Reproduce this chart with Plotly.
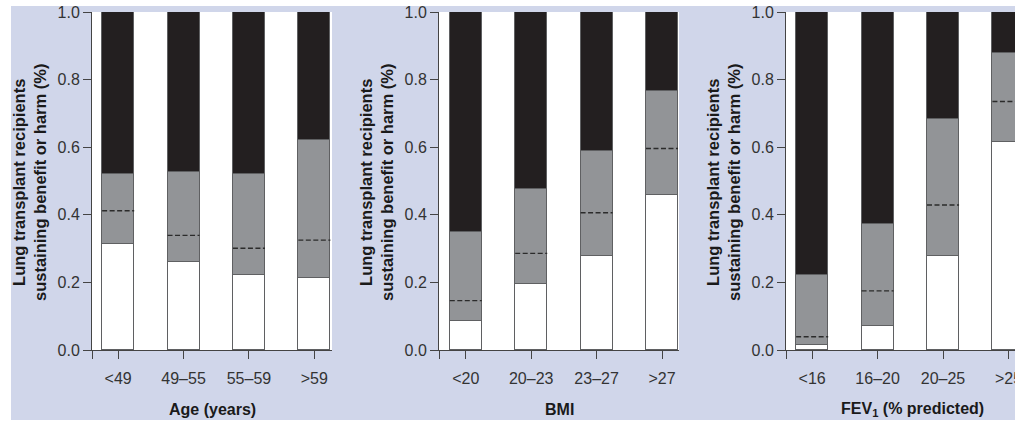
import plotly.graph_objects as go

# Proportions of lung transplant recipients by subgroup:
# white = lower band top, grey = upper band top, dashed = central estimate
age_labels = ["<49", "49–55", "55–59", ">59"]
age_low = [0.313, 0.259, 0.221, 0.213]
age_high = [0.521, 0.528, 0.521, 0.621]
age_mid = [0.412, 0.339, 0.301, 0.325]

bmi_labels = ["<20", "20–23", "23–27", ">27"]
bmi_low = [0.087, 0.196, 0.277, 0.459]
bmi_high = [0.350, 0.475, 0.589, 0.766]
bmi_mid = [0.146, 0.286, 0.406, 0.596]

fev_labels = ["<16", "16–20", "20–25", ">25"]
fev_low = [0.015, 0.071, 0.277, 0.616]
fev_high = [0.221, 0.372, 0.683, 0.880]
fev_mid = [0.039, 0.175, 0.429, 0.735]

y_ticks = [0.0, 0.2, 0.4, 0.6, 0.8, 1.0]

panels = [
    (age_labels, age_low, age_high, age_mid, "Age (years)"),
    (bmi_labels, bmi_low, bmi_high, bmi_mid, "BMI"),
    (fev_labels, fev_low, fev_high, fev_mid, "FEV<sub>1</sub> (% predicted)"),
]

W, H = 1015, 424
LAVENDER = "#d0d6ea"
BLACK = "#231f20"
GREY = "#929497"
EDGE = "#5f6062"
FONT = "Liberation Sans, Arial, Helvetica, sans-serif"
BAR_W = 0.49

# pixel layout of the three plot areas
x_px = [(92, 332), (439, 679), (786, 1015)]
x_ranges = [[-0.40, 3.27], [-0.41, 3.26], [-0.40, 3.10]]
y_dom = [(H - 350) / H, (H - 12) / H]

fig = go.Figure()
annotations = []

for k, (labels, low, high, mid, title) in enumerate(panels):
    xa = "x" if k == 0 else f"x{k + 1}"
    ya = "y" if k == 0 else f"y{k + 1}"
    pos = list(range(len(labels)))
    segs = [
        (low, "white"),
        ([h - l for h, l in zip(high, low)], GREY),
        ([1 - h for h in high], BLACK),
    ]
    for vals, col in segs:
        fig.add_trace(go.Bar(
            x=pos, y=vals, width=BAR_W, marker_color=col,
            marker_line=dict(color=EDGE, width=1.2),
            xaxis=xa, yaxis=ya, showlegend=False, hoverinfo="skip",
        ))
    # dashed central estimate across each bar
    lx, ly = [], []
    for p, m in zip(pos, mid):
        lx += [p - BAR_W / 2, p + BAR_W / 2, None]
        ly += [m, m, None]
    fig.add_trace(go.Scatter(
        x=lx, y=ly, mode="lines", xaxis=xa, yaxis=ya, showlegend=False,
        line=dict(color="#2b2b2b", width=1.4, dash="5px,2.5px"),
        hoverinfo="skip",
    ))

    x0, x1 = x_px[k]
    r0 = x_ranges[k][0]
    axis_common = dict(
        showline=True, linecolor="#444", linewidth=1,
        ticks="outside", ticklen=8, tickcolor="#444", tickwidth=1,
        showgrid=False, zeroline=False, automargin=False,
        tickfont=dict(family=FONT, size=16, color="#333"),
    )
    fig.layout[f"xaxis{'' if k == 0 else k + 1}"] = dict(
        domain=[x0 / W, min(x1 / W, 1.0)], range=x_ranges[k],
        anchor=ya, tickmode="array", tickvals=pos, ticktext=labels,
        ticklabelstandoff=6, ticklabeloverflow="allow",
        minor=dict(tickmode="array", tickvals=[r0 + 0.002], ticks="outside",
                   ticklen=8, tickcolor="#444", tickwidth=1, showgrid=False),
        **axis_common,
    )
    fig.layout[f"yaxis{'' if k == 0 else k + 1}"] = dict(
        domain=y_dom, range=[0, 1], anchor=xa,
        tickmode="array", tickvals=y_ticks, tickformat=".1f",
        **axis_common,
    )

    annotations.append(dict(
        text="<b>Lung transplant recipients</b><br><b>sustaining benefit or harm (%)</b>",
        xref="paper", yref="paper", x=(x0 - 63) / W, y=(H - 183) / H,
        xanchor="center", yanchor="middle", textangle=-90, showarrow=False,
        font=dict(family=FONT, size=16.5, color="#1a1a1a"),
    ))
    xc = 912 if k == 2 else (x0 + x1) / 2
    annotations.append(dict(
        text=f"<b>{title}</b>", xref="paper", yref="paper",
        x=xc / W, y=(H - 409) / H, xanchor="center", yanchor="middle",
        showarrow=False, font=dict(family=FONT, size=16, color="#1a1a1a"),
    ))

# white page border around the tinted panel background
shapes = [
    dict(type="rect", xref="paper", yref="paper", x0=0, x1=1,
         y0=(H - 6) / H, y1=1, fillcolor="white", line_width=0, layer="above"),
    dict(type="rect", xref="paper", yref="paper", x0=0, x1=11 / W,
         y0=0, y1=1, fillcolor="white", line_width=0, layer="above"),
    dict(type="rect", xref="paper", yref="paper", x0=0, x1=1,
         y0=0, y1=4 / H, fillcolor="white", line_width=0, layer="above"),
]

fig.update_layout(
    width=W, height=H, barmode="stack", bargap=0,
    margin=dict(l=0, r=0, t=0, b=0, autoexpand=False),
    paper_bgcolor=LAVENDER, plot_bgcolor="white",
    annotations=annotations, shapes=shapes,
    font=dict(family=FONT, size=16, color="#333"),
)

fig.write_html("out.html", config={"displayModeBar": False})
